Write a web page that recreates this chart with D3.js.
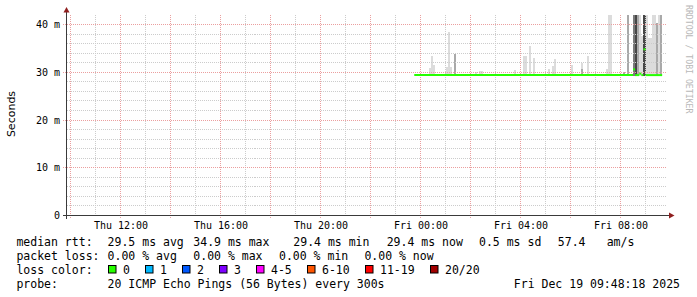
<!DOCTYPE html>
<html>
<head>
<meta charset="utf-8">
<script src="https://d3js.org/d3.v7.min.js"></script>
<style>
  body { margin: 0; background: #fff; }
  svg text { font-family: "DejaVu Sans Mono", monospace; fill: #000; }
</style>
</head>
<body>
<script>
// ---- values -----------------------------------------------------------

// times are "HH:MM"; 12:00 and later is Thu Dec 18, earlier is Fri Dec 19
var yTicks = [0, 10, 20, 30, 40];

// median rtt in ms, each value holds until the next entry
var medianSteps = [
  ["23:45", 29.4], ["08:30", 30.6], ["08:35", 29.4], ["08:45", 29.7],
  ["08:50", 29.4], ["08:55", 34.8], ["09:00", 29.4], ["09:40", null]
];

// smoke: [time, low ms, high ms, density 1 (light) .. 4 (dark)]
var smoke = [
  ["00:20", 29.3, 30.8, 1], ["00:25", 29.3, 33.3, 1], ["00:30", 29.3, 31.6, 1],
  ["01:00", 29.3, 31.0, 1], ["01:05", 29.3, 38.5, 1], ["01:10", 29.3, 31.0, 1],
  ["01:20", 29.3, 33.9, 2], ["02:10", 29.3, 30.0, 1], ["02:20", 29.3, 30.2, 1],
  ["02:25", 29.3, 30.2, 1], ["03:45", 29.3, 30.4, 1], ["04:05", 29.3, 33.3, 1],
  ["04:10", 29.3, 33.3, 1], ["04:20", 29.3, 35.4, 1], ["04:30", 29.3, 32.9, 1],
  ["05:05", 29.3, 30.6, 1], ["05:15", 29.3, 31.4, 1], ["05:20", 29.3, 32.7, 1],
  ["06:00", 29.3, 31.6, 1], ["06:25", 29.3, 31.9, 1], ["06:25", 29.3, 30.6, 2],
  ["06:40", 29.3, 33.3, 1], ["07:25", 29.3, 30.6, 1], ["07:30", 29.3, 45, 1],
  ["07:35", 29.3, 45, 1], ["08:05", 29.3, 30.0, 2], ["08:15", 29.3, 45, 2],
  ["08:30", 29.3, 45, 3], ["08:35", 29.3, 45, 4], ["08:40", 29.3, 45, 2],
  ["08:45", 29.3, 45, 1], ["08:50", 29.3, 37.5, 1], ["08:55", 29.3, 45, 4],
  ["09:00", 29.3, 45, 1], ["09:05", 29.3, 37.1, 1], ["09:10", 29.3, 37.1, 1],
  ["09:15", 29.3, 45, 1], ["09:20", 29.3, 45, 1], ["09:25", 29.3, 40.4, 2],
  ["09:30", 29.3, 45, 1], ["09:35", 29.3, 45, 2]
];

var rttValues = [29.5, 34.9, 29.4, 29.4];
var statNames = ["avg", "max", "min", "now"];
var rttSd = 0.5;
var rttAms = 57.4;
var lossValues = [0, 0, 0, 0];

var lossLabels = ["0", "1", "2", "3", "4-5", "6-10", "11-19", "20/20"];
var lossColors = ["#26ff00", "#00b8ff", "#0059ff", "#7e00ff", "#ff00ff", "#ff5500", "#ff0000", "#a10000"];

var probeText = "20 ICMP Echo Pings (56 Bytes) every 300s";
var stampText = "Fri Dec 19 09:48:18 2025";

// ---- drawing -----------------------------------------------------------

function t(s) {
  var p = s.split(":"), h = +p[0], m = +p[1];
  return h >= 12 ? new Date(2025, 11, 18, h, m) : new Date(2025, 11, 19, h, m);
}
var STEP = 5 * 60 * 1000;

var svg = d3.select("body").append("svg")
    .attr("width", 697).attr("height", 297);
svg.append("rect").attr("width", 697).attr("height", 297).attr("fill", "#fff");

var start = new Date(2025, 11, 18, 9, 50, 24),
    end = new Date(start.getTime() + 24 * 3600 * 1000);

var x = d3.scaleTime().domain([start, end]).range([66.5, 666.5]);
var y = d3.scaleLinear().domain([0, 40]).range([215.5, 24.5]);
var yTop = y(42);

var shade = d3.scaleOrdinal().domain([1, 2, 3, 4])
    .range(["#dcdcdc", "#a9a9a9", "#7a7a7a", "#474747"]);

svg.append("clipPath").attr("id", "plot")
  .append("rect").attr("x", 66).attr("y", yTop)
    .attr("width", 601).attr("height", 215.5 - yTop);

// smoke
svg.append("g").attr("clip-path", "url(#plot)")
  .selectAll("rect").data(smoke).enter().append("rect")
    .attr("x", function (d) { return Math.round(x(t(d[0]))); })
    .attr("width", function (d) {
      var t0 = t(d[0]);
      return Math.round(x(new Date(t0.getTime() + STEP))) - Math.round(x(t0));
    })
    .attr("y", function (d) { return y(d[2]); })
    .attr("height", function (d) { return y(d[1]) - y(d[2]); })
    .attr("fill", function (d) { return shade(d[3]); })
    .attr("shape-rendering", "crispEdges");

// grid (on top of the smoke, like rrdtool)
var grid = svg.append("g").attr("shape-rendering", "crispEdges")
    .attr("stroke-dasharray", "1,1");

var minorY = d3.range(2, 42, 2).filter(function (v) { return v % 10 !== 0; });
grid.selectAll(".hmin").data(minorY).enter().append("line")
    .attr("x1", 66.5).attr("x2", 666.5)
    .attr("y1", function (v) { return Math.floor(y(v)) + 0.5; })
    .attr("y2", function (v) { return Math.floor(y(v)) + 0.5; })
    .attr("stroke", "#cccccc");

var hours = d3.timeHour.range(start, end);
grid.selectAll(".vmin").data(hours.filter(function (h) { return h.getHours() % 2; }))
  .enter().append("line")
    .attr("x1", function (h) { return Math.floor(x(h)) + 0.5; })
    .attr("x2", function (h) { return Math.floor(x(h)) + 0.5; })
    .attr("y1", yTop).attr("y2", 215)
    .attr("stroke", "#cccccc");

grid.selectAll(".hmaj").data(yTicks.slice(1)).enter().append("line")
    .attr("x1", 63).attr("x2", 666.5)
    .attr("y1", function (v) { return Math.floor(y(v)) + 0.5; })
    .attr("y2", function (v) { return Math.floor(y(v)) + 0.5; })
    .attr("stroke", "#eb9f9f");

grid.selectAll(".vmaj").data(hours.filter(function (h) { return h.getHours() % 2 === 0; }))
  .enter().append("line")
    .attr("x1", function (h) { return Math.floor(x(h)) + 0.5; })
    .attr("x2", function (h) { return Math.floor(x(h)) + 0.5; })
    .attr("y1", yTop).attr("y2", 219)
    .attr("stroke", "#eb9f9f");

// median line, one flat piece per step value
var line = d3.line()
    .x(function (d) { return x(d[0]); })
    .y(function (d) { return y(d[1]); });
var pieces = [];
for (var i = 0; i < medianSteps.length - 1; i++) {
  pieces.push([[t(medianSteps[i][0]), medianSteps[i][1]],
               [t(medianSteps[i + 1][0]), medianSteps[i][1]]]);
}
svg.append("g").selectAll("path").data(pieces).enter().append("path")
    .attr("d", line)
    .attr("fill", "none")
    .attr("stroke", lossColors[0])
    .attr("stroke-width", 2);

// axes lines and arrows
svg.append("line").attr("x1", 63).attr("x2", 670).attr("y1", 215.5).attr("y2", 215.5)
    .attr("stroke", "#3a3a3a").attr("shape-rendering", "crispEdges");
svg.append("line").attr("x1", 66.5).attr("x2", 66.5).attr("y1", 219).attr("y2", 11)
    .attr("stroke", "#3a3a3a").attr("shape-rendering", "crispEdges");
svg.append("path").attr("d", "M63.5,12.5 L66.5,7 L69.5,12.5 Z").attr("fill", "#8f1f1f");
svg.append("path").attr("d", "M669,212.5 L674.5,215.5 L669,218.5 Z").attr("fill", "#8f1f1f");

// tick labels
var xAxis = svg.append("g").attr("transform", "translate(0,215.5)")
    .call(d3.axisBottom(x).ticks(d3.timeHour.every(4))
      .tickFormat(d3.timeFormat("%a %H:%M")).tickSize(0).tickPadding(6.5));
var yAxis = svg.append("g").attr("transform", "translate(66.5,0)")
    .call(d3.axisLeft(y).tickValues(yTicks)
      .tickFormat(function (v) { return v === 0 ? "0" : v + " m"; })
      .tickSize(0).tickPadding(6.5));
[xAxis, yAxis].forEach(function (a) {
  a.select(".domain").remove();
  a.selectAll("text").attr("font-family", "DejaVu Sans Mono").attr("font-size", 10).attr("fill", "#000");
});

svg.append("text")
    .attr("transform", "translate(14.5,114) rotate(-90)")
    .attr("text-anchor", "middle")
    .style("font-family", "'DejaVu Sans', sans-serif")
    .style("font-size", "11px")
    .text("Seconds");

svg.append("text")
    .attr("transform", "translate(686,5) rotate(90)")
    .style("font-size", "8.2px")
    .style("fill", "#b8b8b8")
    .text("RRDTOOL / TOBI OETIKER");

// legend
var legend = svg.append("g").style("font-size", "11.5px");
function put(tx, px, py, anchor) {
  legend.append("text").attr("x", px).attr("y", py)
      .attr("text-anchor", anchor || "start")
      .attr("xml:space", "preserve").text(tx);
}
var row = [245.5, 259.5, 273.5, 287.5];

put("median rtt:", 16.4, row[0]);
[107.6, 193.3, 293.3, 386.7].forEach(function (px, i) {
  put(rttValues[i].toFixed(1) + " ms " + statNames[i], px, row[0]);
});
put(rttSd.toFixed(1) + " ms sd", 479, row[0]);
put(rttAms.toFixed(1), 557.8, row[0]);
put("am/s", 606.7, row[0]);

put("packet loss:", 16.4, row[1]);
[107.6, 193.3, 279, 364.4].forEach(function (px, i) {
  put(lossValues[i].toFixed(2) + " % " + statNames[i], px, row[1]);
});

put("loss color:", 16.4, row[2]);
var bx = 108;
lossLabels.forEach(function (lab, i) {
  legend.append("rect").attr("x", bx + 0.5).attr("y", 265.5)
      .attr("width", 7.5).attr("height", 7.5)
      .attr("fill", lossColors[i]).attr("stroke", "#000");
  put(lab, bx + 15, row[2]);
  bx += 30 + 7 * lab.length;
});

put("probe:", 16.4, row[3]);
put(probeText, 107.6, row[3]);
put(stampText, 680, row[3], "end");
</script>
</body>
</html>
